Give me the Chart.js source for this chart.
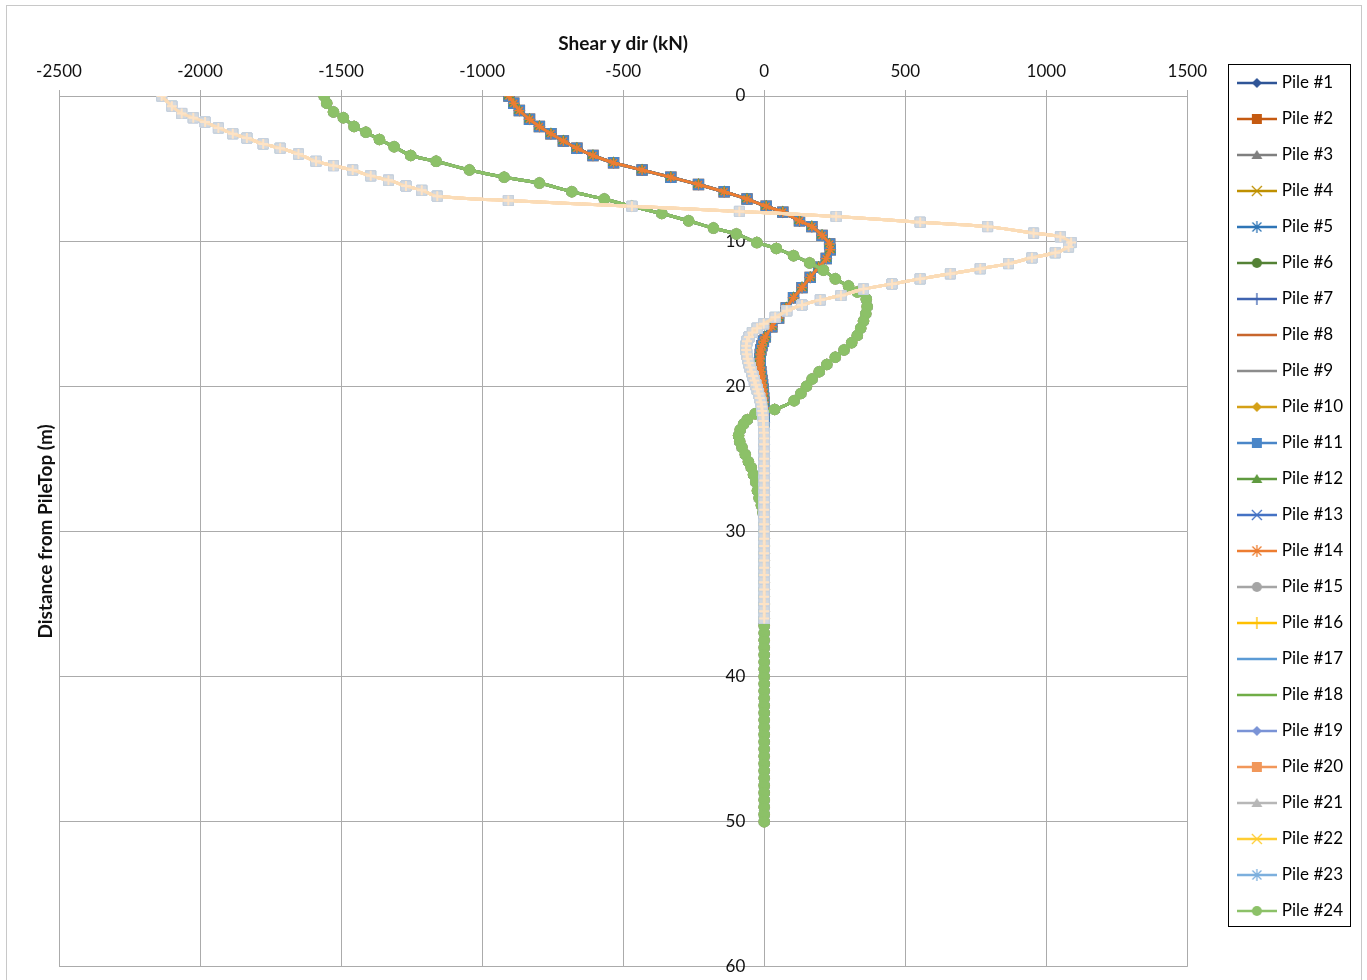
<!DOCTYPE html>
<html>
<head>
<meta charset="utf-8">
<title>Shear y dir</title>
<script src="https://cdn.jsdelivr.net/npm/chart.js@4.4.1/dist/chart.umd.min.js"></script>
<style>
  html, body { margin: 0; padding: 0; background: #fff; }
  #wrap { width: 1367px; height: 980px; }
</style>
</head>
<body>
<div id="wrap"><canvas id="shearChart" width="1367" height="980"></canvas></div>
<script>
// depth (m) / shear (kN), one pair of arrays per curve family
const depthA = [0, 0.5, 1.0, 1.6, 2.1, 2.6, 3.1, 3.6, 4.1, 4.6, 5.1, 5.6, 6.1, 6.6, 7.1, 7.6, 8.0, 8.6, 9.0, 9.6,
  10.2, 10.6, 11.2, 11.8, 12.5, 13.2, 13.9, 14.6, 15.3, 15.9, 16.6, 16.9, 17.2, 17.5, 17.8, 18.1, 18.4, 18.7, 19.0, 19.3,
  19.6, 19.9, 20.2, 20.5, 20.8, 21.1, 21.5, 22.0, 22.5, 23.0, 23.5, 24.0, 24.5, 25.0, 25.5, 26.0, 26.5, 27.0, 27.5, 28.0,
  28.5, 29.0, 29.5, 30.0, 30.5, 31.0, 31.5, 32.0, 32.5, 33.0, 33.5, 34.0, 34.5, 35.0, 35.5, 36.0];
const shearA = [-905, -888, -868, -832, -797, -756, -712, -664, -607, -534, -433, -331, -233, -142, -61, 7, 66, 125, 169, 205,
  232, 234, 220, 193, 163, 134, 104, 78, 51, 27, 4, -3, -8, -12, -14, -15, -15, -14, -12, -10,
  -8, -6, -4, -3, -2, -1, -1, 0, 0, 0, 0, 0, 0, 0, 0, 0, 0, 0, 0, 0,
  0, 0, 0, 0, 0, 0, 0, 0, 0, 0, 0, 0, 0, 0, 0, 0];

const depthB = [0, 0.5, 1.1, 1.5, 2.1, 2.5, 3.0, 3.5, 4.1, 4.5, 5.1, 5.6, 6.0, 6.6, 7.1, 7.6, 8.1, 8.6, 9.1, 9.5,
  10.1, 10.5, 11.0, 11.5, 12.0, 12.6, 13.1, 13.5, 14.0, 14.5, 15.0, 15.5, 16.0, 16.5, 17.0, 17.5, 18.0, 18.5, 19.0, 19.5,
  20.0, 20.5, 21.0, 21.6, 21.9, 22.3, 22.6, 23.0, 23.4, 23.8, 24.2, 24.7, 25.2, 25.6, 26.1, 26.6, 27.2, 27.7, 28.2, 28.7,
  29.5, 30.0, 30.5, 31.0, 31.5, 32.0, 32.5, 33.0, 33.5, 34.0, 34.5, 35.0, 35.5, 36.0, 36.5, 37.0, 37.5, 38.0, 38.5, 39.0,
  39.5, 40.0, 40.5, 41.0, 41.5, 42.0, 42.5, 43.0, 43.5, 44.0, 44.5, 45.0, 45.5, 46.0, 46.5, 47.0, 47.5, 48.0, 48.5, 49.0,
  49.5, 50.0];
const shearB = [-1560, -1551, -1527, -1492, -1454, -1412, -1364, -1312, -1253, -1163, -1045, -922, -797, -682, -567, -469, -363, -268, -180, -99,
  -26, 43, 104, 161, 210, 252, 299, 330, 362, 365, 360, 352, 342, 330, 310, 283, 252, 222, 195, 170,
  150, 130, 106, 37, -32, -60, -73, -85, -91, -87, -79, -67, -56, -46, -38, -30, -24, -18, -10, -4,
  0, 0, 0, 0, 0, 0, 0, 0, 0, 0, 0, 0, 0, 0, 0, 0, 0, 0, 0, 0,
  0, 0, 0, 0, 0, 0, 0, 0, 0, 0, 0, 0, 0, 0, 0, 0, 0, 0, 0, 0,
  0, 0];

const depthC = [0, 0.7, 1.2, 1.5, 1.8, 2.2, 2.6, 2.9, 3.3, 3.6, 4.0, 4.5, 4.8, 5.1, 5.5, 5.8, 6.2, 6.5, 6.9, 7.2,
  7.6, 7.95, 8.3, 8.7, 9.0, 9.45, 9.7, 10.1, 10.4, 10.8, 11.15, 11.55, 11.9, 12.25, 12.6, 12.95, 13.3, 13.75, 14.05, 14.4,
  14.8, 15.25, 15.7, 16.0, 16.3, 16.6, 16.9, 17.2, 17.5, 17.8, 18.1, 18.4, 18.7, 19.0, 19.3, 19.6, 19.9, 20.2, 20.5, 20.8,
  21.1, 21.4, 21.7, 22.0, 22.4, 22.8, 23.2, 23.6, 24.0, 24.5, 25.0, 25.5, 26.0, 26.5, 27.0, 27.5, 28.0, 28.5, 29.0, 29.5,
  30.0, 30.5, 31.0, 31.5, 32.0, 32.5, 33.0, 33.5, 34.0, 34.5, 35.0, 35.5, 36.0];
const shearC = [-2136, -2100, -2065, -2024, -1982, -1935, -1884, -1834, -1776, -1716, -1651, -1589, -1527, -1459, -1395, -1332, -1270, -1214, -1159, -907,
  -469, -88, 255, 553, 792, 955, 1050, 1088, 1079, 1032, 949, 866, 766, 660, 553, 453, 352, 272, 199, 134,
  80, 39, -2, -25, -42, -54, -61, -64, -64, -62, -59, -55, -50, -45, -40, -35, -30, -25, -20, -16,
  -12, -9, -7, -5, -3, -2, -1, 0, 0, 0, 0, 0, 0, 0, 0, 0, 0, 0, 0, 0,
  0, 0, 0, 0, 0, 0, 0, 0, 0, 0, 0, 0, 0];

// which piles follow which curve
const pilesA = [1, 2, 5, 7, 11, 12, 13, 14];
const pilesB = [3, 6, 9, 10, 15, 17, 18, 24];
const pilesC = [4, 8, 16, 19, 20, 21, 22, 23];

const shearTicks = [-2500, -2000, -1500, -1000, -500, 0, 500, 1000, 1500];
const depthTicks = [0, 10, 20, 30, 40, 50, 60];

const pileColors = ['#2f5597', '#c55a11', '#7f7f7f', '#bf9000', '#2e75b6', '#548235', '#3f63b0', '#c8662c',
  '#8c8c8c', '#d4a017', '#4a86c8', '#5f9a3f', '#4472c4', '#ed7d31', '#a5a5a5', '#ffc000',
  '#5b9bd5', '#70ad47', '#7a93d6', '#f1975a', '#b7b7b7', '#ffcd33', '#7cafdd', '#8cc168'];
const markerCycle = ['diamond', 'square', 'triangle', 'x', 'star', 'circle', 'plus', 'dash', 'dash'];

const FONT = 'Lato, "Open Sans", "DejaVu Sans", sans-serif';
const GRID = '#ababab';

const chartStyle = {
  diamond: 'rectRot', square: 'rect', triangle: 'triangle', x: 'crossRot',
  star: 'star', circle: 'circle', plus: 'cross', dash: 'line'
};

// little line+marker picture for the legend, excel style
function makeIcon(color, marker) {
  const c = document.createElement('canvas');
  c.width = 40; c.height = 14;
  const g = c.getContext('2d');
  const cx = 20, cy = 7;
  g.strokeStyle = color;
  g.fillStyle = color;
  g.lineWidth = 2.5;
  g.beginPath(); g.moveTo(0, cy); g.lineTo(40, cy); g.stroke();
  g.lineWidth = 1.3;
  g.beginPath();
  if (marker === 'diamond') {
    g.moveTo(cx, cy - 5); g.lineTo(cx + 5, cy); g.lineTo(cx, cy + 5); g.lineTo(cx - 5, cy); g.closePath(); g.fill();
  } else if (marker === 'square') {
    g.fillRect(cx - 5, cy - 5, 10, 10);
  } else if (marker === 'triangle') {
    g.moveTo(cx, cy - 5); g.lineTo(cx + 5.5, cy + 4); g.lineTo(cx - 5.5, cy + 4); g.closePath(); g.fill();
  } else if (marker === 'x') {
    g.moveTo(cx - 5, cy - 5); g.lineTo(cx + 5, cy + 5); g.moveTo(cx + 5, cy - 5); g.lineTo(cx - 5, cy + 5); g.stroke();
  } else if (marker === 'star') {
    g.moveTo(cx - 4.5, cy - 4.5); g.lineTo(cx + 4.5, cy + 4.5); g.moveTo(cx + 4.5, cy - 4.5); g.lineTo(cx - 4.5, cy + 4.5);
    g.moveTo(cx, cy - 6); g.lineTo(cx, cy + 6); g.stroke();
  } else if (marker === 'circle') {
    g.arc(cx, cy, 5, 0, Math.PI * 2); g.fill();
  } else if (marker === 'plus') {
    g.moveTo(cx, cy - 6); g.lineTo(cx, cy + 6); g.stroke();
  }
  return c;
}

function pairs(depths, shears) {
  return depths.map((d, i) => ({ x: shears[i], y: d }));
}

const datasets = [];
const legendIcons = [];
for (let p = 1; p <= 24; p++) {
  const color = pileColors[p - 1];
  const marker = markerCycle[(p - 1) % 9];
  legendIcons.push(makeIcon(color, marker));

  let data, rank;
  if (pilesA.includes(p)) { data = pairs(depthA, shearA); rank = 2; }
  else if (pilesB.includes(p)) { data = pairs(depthB, shearB); rank = 1; }
  else { data = pairs(depthC, shearC); rank = 0; }

  const ds = {
    label: 'Pile #' + p,
    data: data,
    showLine: true,
    borderColor: color,
    backgroundColor: color,
    borderWidth: 3,
    pointStyle: chartStyle[marker],
    pointRadius: marker === 'square' ? 7 : 5,
    pointBorderWidth: 1.5,
    pointBorderColor: color,
    pointBackgroundColor: color,
    tension: 0.25,
    order: rank * 100 + (25 - p)
  };
  if (rank === 0) {
    // the pale curve
    ds.borderColor = '#fbdcb7';
    if (p === 23) {
      ds.pointStyle = 'cross';
      ds.pointRadius = 5;
      ds.pointBorderColor = '#fde3c6';
      ds.pointBorderWidth = 2;
    } else {
      ds.pointStyle = 'rect';
      ds.pointRadius = 7;
      ds.pointBackgroundColor = '#d4d9df';
      ds.pointBorderColor = '#c6d1dd';
      ds.pointBorderWidth = 1;
    }
  }
  datasets.push(ds);
}

const framePlugin = {
  id: 'frames',
  afterDraw(chart) {
    const ctx = chart.ctx;
    ctx.save();
    ctx.lineWidth = 1;
    ctx.strokeStyle = '#c8c8c8';
    ctx.strokeRect(6.5, 5.5, 1355, 990);
    const lg = chart.legend;
    if (lg && lg.columnSizes && lg.columnSizes.length) {
      const pad = 19;
      const colH = lg.columnSizes[0].height;
      const y0 = (lg.top + pad + lg.bottom - colH) / 2;
      ctx.strokeStyle = '#000';
      ctx.strokeRect(Math.round(lg.left + 7) + 0.5, Math.round(y0 - 10.5) + 0.5,
        Math.round(lg.right - lg.left - 10), Math.round(colH - 2));
    }
    ctx.restore();
  }
};

Chart.defaults.font.family = FONT;
Chart.defaults.font.size = 17;
Chart.defaults.color = '#111';

new Chart(document.getElementById('shearChart'), {
  type: 'scatter',
  data: { datasets: datasets },
  plugins: [framePlugin],
  options: {
    responsive: false,
    animation: false,
    layout: { padding: { top: 25, right: 14, bottom: 11, left: 0 } },
    scales: {
      x: {
        type: 'linear',
        position: 'top',
        min: -2500,
        max: 1500,
        afterBuildTicks: s => { s.ticks = shearTicks.map(v => ({ value: v })); },
        ticks: { padding: 8, callback: v => String(v) },
        grid: { color: GRID, tickLength: 6, tickColor: GRID },
        border: { display: false },
        title: { display: true, text: 'Shear y dir (kN)', font: { weight: 'bold', size: 19 }, padding: { top: 7, bottom: 0 } },
        afterFit: s => { s.height = 71; }
      },
      y: {
        type: 'linear',
        position: 'left',
        reverse: true,
        min: 0,
        max: 60,
        afterBuildTicks: s => { s.ticks = depthTicks.map(v => ({ value: v })); },
        ticks: { display: false },
        grid: { color: GRID, drawTicks: false },
        border: { display: false },
        title: { display: true, text: 'Distance from PileTop (m)', font: { weight: 'bold', size: 19 }, padding: { top: 34, bottom: 0 } },
        afterFit: s => { s.width = 59; }
      },
      // depth labels sit just left of the zero line, like the excel axis crossing
      yLabels: {
        type: 'linear',
        position: { x: -67 },
        reverse: true,
        min: 0,
        max: 60,
        afterBuildTicks: s => { s.ticks = depthTicks.map(v => ({ value: v })); },
        ticks: { callback: v => String(v) },
        grid: { display: false },
        border: { display: false }
      },
      yRight: {
        type: 'linear',
        position: 'right',
        ticks: { display: false },
        grid: { display: false },
        border: { display: false },
        afterFit: s => { s.width = 34; }
      }
    },
    plugins: {
      tooltip: { enabled: false },
      legend: {
        position: 'right',
        align: 'center',
        labels: {
          usePointStyle: true,
          pointStyleWidth: 33,
          padding: 19,
          font: { size: 17 },
          color: '#111',
          generateLabels: chart => chart.data.datasets.map((ds, i) => ({
            text: ds.label,
            pointStyle: legendIcons[i],
            fillStyle: pileColors[i],
            strokeStyle: pileColors[i],
            lineWidth: 0,
            hidden: false,
            datasetIndex: i
          }))
        }
      }
    }
  }
});
</script>
</body>
</html>
